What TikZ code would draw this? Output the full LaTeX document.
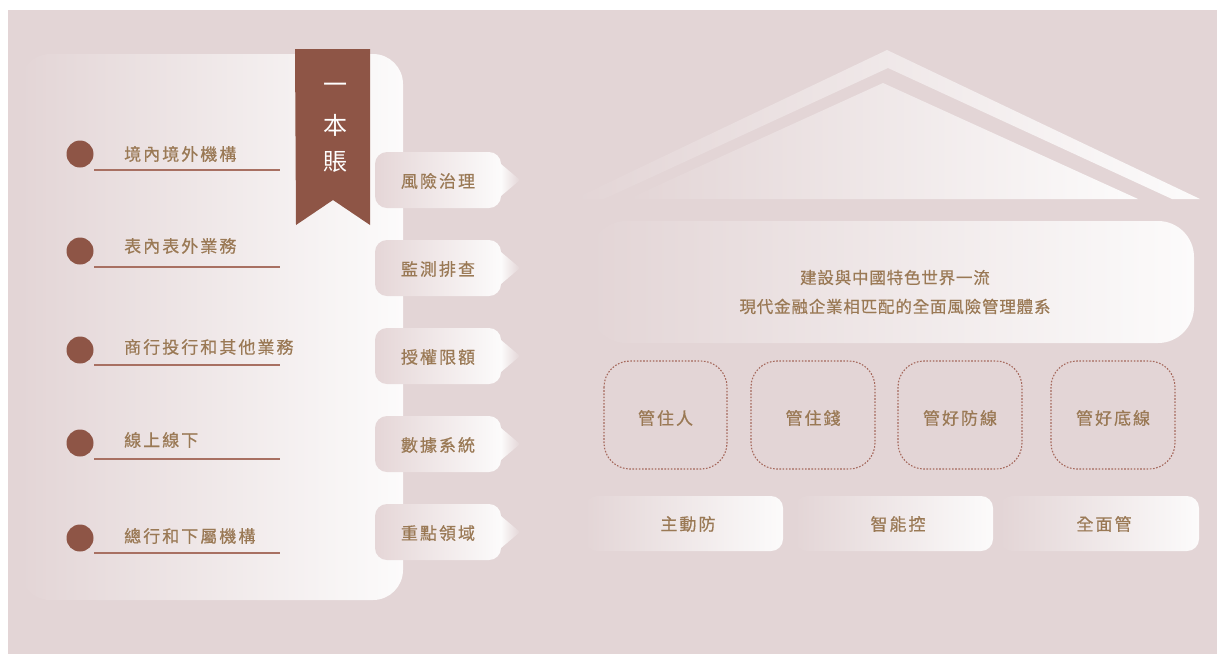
\documentclass[tikz,border=0pt]{standalone}
\usepackage{fontspec}
\newfontfamily\cjk{Noto Sans CJK TC}[LetterSpace=12,FakeBold=0.5]
\newfontfamily\cjkb{Noto Sans CJK TC}[LetterSpace=5,FakeBold=0.5]
\newfontfamily\cjkrib{Noto Sans CJK TC}
\definecolor{bgc}{HTML}{E3D5D6}
\definecolor{ribc}{HTML}{8E5546}
\definecolor{linec}{HTML}{A87062}
\definecolor{txtc}{HTML}{9A7955}
\definecolor{dotc}{HTML}{A5685C}
\definecolor{tabl}{HTML}{E5D6D7}
\definecolor{wht}{HTML}{FCFBFB}
\tikzset{
  txt/.style={text=txtc, font=\cjk\fontsize{17}{19}\selectfont, inner sep=0pt},
  ribtxt/.style={text=white, font=\cjkrib\fontsize{24}{26}\selectfont, inner sep=0pt},
  fadebox/.style={left color=bgc, right color=wht},
  tabbox/.style={left color=tabl, right color=wht, rounded corners=12pt},
  pointer/.style={left color=wht, right color=bgc},
  dotbox/.style={draw=dotc, line width=1.1pt, dash pattern=on 1.6pt off 1.6pt, rounded corners=26pt},
  bullet/.style={fill=ribc},
  uline/.style={draw=linec, line width=1.3pt},
}
\begin{document}
\begin{tikzpicture}[x=1pt,y=-1pt]
\useasboundingbox (0,0) rectangle (1217,654);
\fill[white] (0,0) rectangle (1217,654);
\fill[bgc] (8,10) rectangle (1217,654);

% left panel
\shade[fadebox, rounded corners=30pt] (20,54) rectangle (403,600);
% ribbon
\fill[ribc] (295,49) -- (370,49) -- (370,225) -- (333,200) -- (296,225) -- cycle;
\node[ribtxt] (r1) at (335,88) {一};
\node[ribtxt] (r2) at (335,125) {本};
\node[ribtxt] (r3) at (335,162) {賬};

% list
\foreach \i/\cy/\ty/\ly/\t in {1/154/154/170/境內境外機構, 2/251/246/267/表內表外業務, 3/350/347/365/商行投行和其他業務, 4/443/440/459/線上線下, 5/538/536/553/總行和下屬機構}{
  \fill[bullet] (80,\cy) circle[radius=13.5];
  \draw[uline] (94,\ly) -- (280,\ly);
  \node[txt, anchor=west] (l\i) at (124,\ty) {\t};
}

% tabs
\foreach \i/\cy/\t in {1/180/風險治理, 2/268/監測排查, 3/356/授權限額, 4/444/數據系統, 5/532/重點領域}{
  \shade[tabbox] (375,\cy-28) rectangle (501,\cy+28);
  \shade[pointer] (501,\cy-16) -- (520,\cy) -- (501,\cy+16) -- cycle;
  \node[txt] (t\i) at (438,\cy+1) {\t};
}

% roof
\shade[fadebox] (574,199) -- (887,50) -- (1200,199) -- (1172,199) -- (888,68) -- (604,199) -- cycle;
\shade[fadebox] (628,199) -- (883,83) -- (1138,199) -- cycle;

% banner
\shade[fadebox, rounded corners=36pt] (590,221) rectangle (1194,343);
\node[txt, align=center, font=\cjkb\fontsize{16.5}{29}\selectfont] (goal) at (895,292) {建設與中國特色世界一流\\現代金融企業相匹配的全面風險管理體系};

% dotted boxes
\foreach \i/\xa/\xb/\t in {1/604/727/管住人, 2/751/875/管住錢, 3/898/1022/管好防線, 4/1051/1175/管好底線}{
  \draw[dotbox] (\xa,361) rectangle (\xb,469);
  \node[txt] (d\i) at ({(\xa+\xb)/2},418) {\t};
}

% bottom row
\foreach \xa/\xb in {585/783, 795/993, 1000/1199}{
  \shade[fadebox, rounded corners=12pt] (\xa,496) rectangle (\xb,551);
}
\node[txt] (b1) at (688,524) {主動防};
\node[txt] (b2) at (898,524) {智能控};
\node[txt] (b3) at (1104,524) {全面管};
\end{tikzpicture}
\end{document}
